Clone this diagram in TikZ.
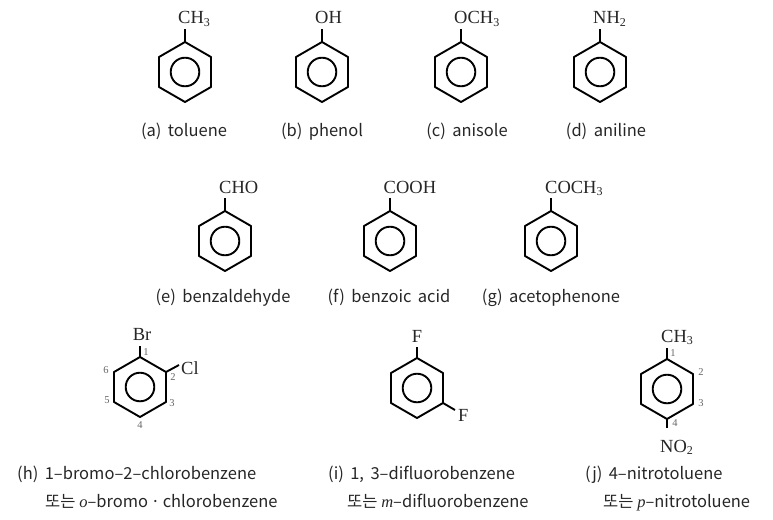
\documentclass[tikz,border=0pt]{standalone}
\usepackage{fontspec}
\setmainfont{Liberation Serif}
\newfontfamily\labfont{Noto Sans CJK KR}
\usetikzlibrary{calc}
\tikzset{
  ringline/.style={line width=1.9pt, line join=round, black},
  bondline/.style={line width=1.9pt, black},
  subst/.style={inner sep=0pt, font=\fontsize{18.5}{18.5}\selectfont, text=black!85},
  lab/.style={inner sep=0pt, font=\labfont\fontsize{16.5}{18}\selectfont, text=black!85},
  num/.style={inner sep=0pt, font=\fontsize{10.5}{10.5}\selectfont, text=black!60},
}
\newcommand\sbs[1]{\raisebox{-0.3ex}{\fontsize{12}{12}\selectfont #1}}
\newcommand\ring[3]{%
  \coordinate (#1) at (#2,#3);
  \coordinate (#1-1) at ($(#1)+(0,-30)$);
  \coordinate (#1-2) at ($(#1)+(26,-15)$);
  \coordinate (#1-3) at ($(#1)+(26,15)$);
  \coordinate (#1-4) at ($(#1)+(0,30)$);
  \coordinate (#1-5) at ($(#1)+(-26,15)$);
  \coordinate (#1-6) at ($(#1)+(-26,-15)$);
  \draw[ringline] (#1-1)--(#1-2)--(#1-3)--(#1-4)--(#1-5)--(#1-6)--cycle;
  \draw[ringline] (#1) circle[radius=14.3pt];
}
\begin{document}
\begin{tikzpicture}[x=1pt,y=-1pt]
\useasboundingbox (0,0) rectangle (773,519);
% ---------- row 1 ----------
\ring{a}{185}{72}
\coordinate (a-t) at ($(a-1)+(0,-13)$);
\draw[bondline] (a-1) -- (a-t);
\node[subst, anchor=base west] (sa) at (178,24) {CH\sbs{3}};
\node[lab, anchor=base] (la) at (184,136) {(a)\, toluene};

\ring{b}{322}{72}
\coordinate (b-t) at ($(b-1)+(0,-13)$);
\draw[bondline] (b-1) -- (b-t);
\node[subst, anchor=base west] (sb) at (315,24) {OH};
\node[lab, anchor=base] (lb) at (322,136) {(b)\, phenol};

\ring{c}{461}{72}
\coordinate (c-t) at ($(c-1)+(0,-13)$);
\draw[bondline] (c-1) -- (c-t);
\node[subst, anchor=base west] (sc) at (454,24) {OCH\sbs{3}};
\node[lab, anchor=base] (lc) at (467,136) {(c)\, anisole};

\ring{d}{600}{72}
\coordinate (d-t) at ($(d-1)+(0,-13)$);
\draw[bondline] (d-1) -- (d-t);
\node[subst, anchor=base west] (sd) at (593,24) {NH\sbs{2}};
\node[lab, anchor=base] (ld) at (606,136) {(d)\, aniline};

% ---------- row 2 ----------
\ring{e}{225}{241}
\coordinate (e-t) at ($(e-1)+(0,-13)$);
\draw[bondline] (e-1) -- (e-t);
\node[subst, anchor=base west] (se) at (219,193) {CHO};
\node[lab, anchor=base] (le) at (223,302) {(e)\, benzaldehyde};

\ring{f}{390}{241}
\coordinate (f-t) at ($(f-1)+(0,-13)$);
\draw[bondline] (f-1) -- (f-t);
\node[subst, anchor=base west] (sf) at (383.5,193) {COOH};
\node[lab, anchor=base] (lf) at (389,302) {(f)\, benzoic\, acid};

\ring{g}{551}{241}
\coordinate (g-t) at ($(g-1)+(0,-13)$);
\draw[bondline] (g-1) -- (g-t);
\node[subst, anchor=base west] (sg) at (545,193) {COCH\sbs{3}};
\node[lab, anchor=base] (lg) at (551,302) {(g)\, acetophenone};

% ---------- row 3 ----------
\ring{h}{140}{387}
\coordinate (h-t) at ($(h-1)+(0,-11)$);
\draw[bondline] (h-1) -- (h-t);
\node[subst, anchor=base] (sh1) at (142,340) {Br};
\coordinate (h-r) at ($(h-2)+(13,-7)$);
\draw[bondline] (h-2) -- (h-r);
\node[subst, anchor=base west] (sh2) at (181,374) {Cl};
\node[num] (nh1) at (146,352) {1};
\node[num] (nh2) at (173,377) {2};
\node[num] (nh3) at (172,403) {3};
\node[num] (nh4) at (140,425) {4};
\node[num] (nh5) at (107,400) {5};
\node[num] (nh6) at (106,370) {6};
\node[lab, anchor=base west] (lh1) at (17,479) {(h)\, 1–bromo–2–chlorobenzene};
\node[lab, anchor=base west] (lh2) at (45,507) {또는 {\rmfamily\itshape o}–bromo\,·\,chlorobenzene};

\ring{i}{417}{388}
\coordinate (i-t) at ($(i-1)+(0,-11)$);
\draw[bondline] (i-1) -- (i-t);
\node[subst, anchor=base] (si1) at (417,342) {F};
\coordinate (i-r) at ($(i-3)+(12,7)$);
\draw[bondline] (i-3) -- (i-r);
\node[subst, anchor=base west] (si2) at (458,421) {F};
\node[lab, anchor=base west] (li1) at (328,479) {(i)\, 1,\, 3–difluorobenzene};
\node[lab, anchor=base west] (li2) at (347,507) {또는 {\rmfamily\itshape m}–difluorobenzene};

\ring{j}{667}{389}
\coordinate (j-t) at ($(j-1)+(0,-11)$);
\draw[bondline] (j-1) -- (j-t);
\node[subst, anchor=base west] (sj1) at (661,342) {CH\sbs{3}};
\coordinate (j-b) at ($(j-4)+(0,9)$);
\draw[bondline] (j-4) -- (j-b);
\node[subst, anchor=base west] (sj2) at (660,452) {NO\sbs{2}};
\node[num] (nj1) at (673,353) {1};
\node[num] (nj2) at (701,372) {2};
\node[num] (nj3) at (701,403) {3};
\node[num] (nj4) at (675,423) {4};
\node[lab, anchor=base west] (lj1) at (585,479) {(j)\, 4–nitrotoluene};
\node[lab, anchor=base west] (lj2) at (603,507) {또는 {\rmfamily\itshape p}–nitrotoluene};
\end{tikzpicture}
\end{document}
